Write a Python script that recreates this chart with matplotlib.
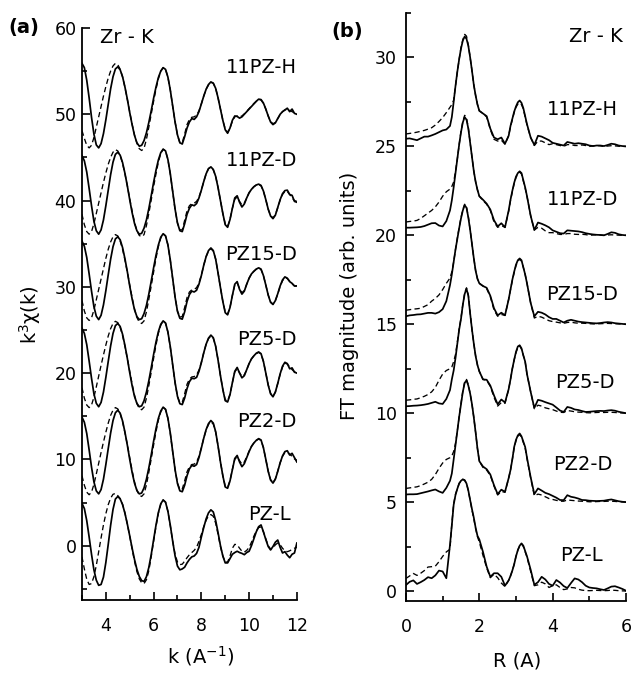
import numpy as np
import matplotlib
matplotlib.use("Agg")
import matplotlib.pyplot as plt
from matplotlib.ticker import MultipleLocator

plt.rcParams['font.family'] = ['DejaVu Sans']
plt.rcParams['mathtext.default'] = 'regular'

# ---- panel (a): k^3 chi(k), experiment (solid) and fit (dashed) ----
k = np.linspace(3.0, 12.0, 91)

samples = ['11PZ-H', '11PZ-D', 'PZ15-D', 'PZ5-D', 'PZ2-D', 'PZ-L']
k_offsets = [50, 40, 30, 20, 10, 0]
r_offsets = [25, 20, 15, 10, 5, 0]

chi_11pzh_exp = [
    5.9, 5.4, 3.95, 1.9, -0.35, -2.3, -3.55, -3.9, -3.4, -2.25,
    -0.65, 1.15, 2.95, 4.35, 5.25, 5.5, 5.15, 4.35, 3.15, 1.75,
    0.2, -1.2, -2.45, -3.3, -3.7, -3.6, -3.05, -2.15, -0.95, 0.4,
    1.85, 3.15, 4.25, 5.0, 5.4, 5.2, 4.3, 2.8, 0.95, -0.9,
    -2.4, -3.3, -3.45, -2.6, -1.6, -0.9, -0.5, -0.6, -0.3, 0.3,
    1.2, 2.1, 2.9, 3.45, 3.75, 3.6, 3.0, 1.9, 0.6, -0.7,
    -1.8, -2.2, -1.6, -0.7, -0.2, -0.25, -0.45, -0.3, 0.0, 0.3,
    0.6, 0.9, 1.2, 1.5, 1.75, 1.7, 1.3, 0.6, -0.2, -0.9,
    -1.2, -1.0, -0.5, 0.0, 0.3, 0.5, 0.7, 0.3, 0.6, 0.1,
    0.0]
chi_11pzh_fit = [
    -1.9, -2.8, -3.6, -3.9, -3.6, -2.7, -1.5, -0.3, 0.9, 2.1,
    3.2, 4.2, 5.0, 5.6, 5.9, 5.75, 5.22, 4.32, 3.12, 1.73,
    0.26, -1.15, -2.4, -3.36, -3.99, -4.2, -3.95, -2.9, -1.5, 0.0,
    1.5, 2.9, 4.1, 5.0, 5.4, 5.2, 4.3, 2.8, 0.9, -0.9,
    -2.4, -3.3, -3.3, -2.3, -1.2, -0.6, -0.35, -0.3, -0.1, 0.4,
    1.2, 2.1, 2.9, 3.4, 3.7, 3.6, 3.0, 1.9, 0.6, -0.7,
    -1.7, -2.1, -1.6, -0.8, -0.3, -0.2, -0.3, -0.2, 0.05, 0.35,
    0.65, 0.95, 1.25, 1.5, 1.7, 1.65, 1.25, 0.6, -0.2, -0.85,
    -1.1, -0.95, -0.5, -0.05, 0.3, 0.5, 0.55, 0.45, 0.3, 0.15,
    0.05]

chi_11pzd_exp = [
    5.2, 4.6, 3.3, 1.4, -0.6, -2.4, -3.5, -3.9, -3.4, -2.25,
    -0.6, 1.2, 3.0, 4.45, 5.35, 5.6, 5.25, 4.4, 3.15, 1.7,
    0.1, -1.4, -2.65, -3.5, -3.9, -3.8, -3.2, -2.25, -0.95, 0.55,
    2.1, 3.5, 4.7, 5.55, 5.95, 5.75, 4.75, 3.1, 1.05, -1.0,
    -2.6, -3.5, -3.6, -2.7, -1.6, -0.9, -0.5, -0.6, -0.35, 0.3,
    1.2, 2.2, 3.1, 3.7, 3.9, 3.6, 2.8, 1.5, 0.0, -1.5,
    -2.8, -3.1, -2.2, -0.9, 0.3, 0.55, -0.2, -0.75, -0.4, 0.3,
    0.9, 1.3, 1.6, 1.8, 1.9, 1.75, 1.1, 0.1, -1.0, -1.8,
    -2.1, -1.7, -0.8, 0.1, 0.8, 1.15, 1.2, 0.7, 0.6, -0.1,
    -0.2]
chi_11pzd_fit = [
    -1.6, -2.8, -3.6, -3.9, -3.6, -2.7, -1.5, -0.3, 0.9, 2.1,
    3.2, 4.2, 5.0, 5.6, 5.9, 5.75, 5.22, 4.3, 3.1, 1.7,
    0.2, -1.2, -2.5, -3.5, -4.05, -4.2, -3.95, -2.9, -1.5, 0.05,
    1.6, 3.1, 4.45, 5.45, 5.95, 5.75, 4.75, 3.05, 1.0, -1.05,
    -2.6, -3.4, -3.4, -2.3, -1.2, -0.6, -0.35, -0.3, -0.1, 0.4,
    1.2, 2.2, 3.1, 3.7, 3.85, 3.55, 2.8, 1.5, 0.0, -1.5,
    -2.7, -3.0, -2.2, -0.9, 0.15, 0.4, -0.1, -0.5, -0.3, 0.3,
    0.9, 1.3, 1.6, 1.8, 1.85, 1.7, 1.1, 0.1, -1.0, -1.75,
    -2.0, -1.65, -0.85, 0.05, 0.7, 1.05, 1.05, 0.7, 0.3, 0.0,
    -0.1]

chi_pz15d_exp = [
    5.3, 4.7, 3.4, 1.5, -0.5, -2.3, -3.4, -3.8, -3.3, -2.1,
    -0.45, 1.4, 3.2, 4.65, 5.55, 5.8, 5.45, 4.55, 3.25, 1.75,
    0.1, -1.4, -2.65, -3.45, -3.8, -3.7, -3.1, -2.15, -0.85, 0.65,
    2.2, 3.65, 4.85, 5.75, 6.15, 5.9, 4.85, 3.1, 0.95, -1.2,
    -2.85, -3.65, -3.75, -2.9, -1.7, -0.9, -0.5, -0.6, -0.4, 0.3,
    1.3, 2.5, 3.5, 4.2, 4.5, 4.2, 3.2, 1.6, -0.1, -1.7,
    -3.0, -3.25, -2.4, -1.0, 0.3, 0.6, -0.3, -0.85, -0.5, 0.3,
    1.0, 1.5, 1.8, 2.05, 2.2, 2.05, 1.3, 0.2, -0.95, -1.8,
    -2.05, -1.6, -0.8, 0.1, 0.8, 1.15, 1.0, 0.6, 0.4, 0.1,
    0.1]
chi_pz15d_fit = [
    -1.6, -2.8, -3.6, -3.9, -3.6, -2.7, -1.5, -0.3, 0.9, 2.1,
    3.3, 4.35, 5.2, 5.8, 6.05, 5.9, 5.3, 4.35, 3.1, 1.7,
    0.2, -1.25, -2.55, -3.55, -4.1, -4.25, -3.95, -2.9, -1.45, 0.1,
    1.7, 3.3, 4.65, 5.65, 6.15, 5.9, 4.85, 3.05, 0.9, -1.2,
    -2.8, -3.5, -3.45, -2.4, -1.25, -0.6, -0.35, -0.3, -0.1, 0.45,
    1.35, 2.5, 3.5, 4.15, 4.4, 4.15, 3.2, 1.6, -0.1, -1.7,
    -2.9, -3.15, -2.4, -1.0, 0.2, 0.45, -0.2, -0.7, -0.4, 0.3,
    1.0, 1.5, 1.8, 2.05, 2.15, 2.0, 1.3, 0.2, -0.95, -1.75,
    -2.0, -1.6, -0.85, 0.05, 0.7, 1.05, 0.95, 0.65, 0.35, 0.1,
    0.05]

chi_pz5d_exp = [
    5.2, 4.6, 3.3, 1.4, -0.6, -2.4, -3.5, -3.9, -3.4, -2.2,
    -0.5, 1.35, 3.15, 4.6, 5.5, 5.75, 5.4, 4.5, 3.2, 1.7,
    0.05, -1.45, -2.7, -3.5, -3.9, -3.8, -3.2, -2.2, -0.9, 0.6,
    2.15, 3.6, 4.8, 5.65, 6.05, 5.8, 4.75, 3.05, 0.95, -1.1,
    -2.7, -3.55, -3.65, -2.9, -1.8, -1.0, -0.6, -0.65, -0.5, 0.2,
    1.2, 2.35, 3.35, 4.05, 4.4, 4.1, 3.1, 1.5, -0.3, -1.9,
    -3.2, -3.35, -2.5, -1.1, 0.2, 0.65, 0.0, -0.55, -0.3, 0.4,
    1.1, 1.65, 2.0, 2.3, 2.45, 2.25, 1.35, 0.0, -1.4, -2.4,
    -2.75, -2.2, -1.2, -0.1, 0.8, 1.25, 1.1, 0.5, 0.6, 0.1,
    0.0]
chi_pz5d_fit = [
    -1.7, -2.9, -3.7, -4.0, -3.7, -2.8, -1.6, -0.35, 0.9, 2.1,
    3.25, 4.3, 5.15, 5.75, 6.0, 5.85, 5.3, 4.35, 3.1, 1.7,
    0.2, -1.25, -2.55, -3.55, -4.1, -4.25, -3.95, -2.9, -1.45, 0.1,
    1.7, 3.25, 4.6, 5.55, 6.05, 5.8, 4.75, 3.0, 0.9, -1.15,
    -2.7, -3.45, -3.4, -2.4, -1.3, -0.7, -0.45, -0.4, -0.2, 0.35,
    1.25, 2.35, 3.35, 4.0, 4.3, 4.05, 3.1, 1.5, -0.3, -1.9,
    -3.1, -3.25, -2.45, -1.1, 0.15, 0.5, 0.05, -0.4, -0.2, 0.4,
    1.1, 1.65, 2.0, 2.25, 2.4, 2.2, 1.35, 0.0, -1.35, -2.35,
    -2.7, -2.2, -1.2, -0.15, 0.7, 1.15, 1.05, 0.7, 0.4, 0.15,
    0.05]

chi_pz2d_exp = [
    4.9, 4.3, 3.0, 1.1, -0.9, -2.6, -3.65, -4.0, -3.5, -2.3,
    -0.6, 1.25, 3.05, 4.5, 5.4, 5.7, 5.35, 4.45, 3.15, 1.65,
    0.0, -1.5, -2.75, -3.6, -4.0, -3.9, -3.3, -2.3, -1.0, 0.5,
    2.1, 3.55, 4.75, 5.6, 6.05, 5.8, 4.75, 3.05, 0.9, -1.2,
    -2.8, -3.65, -3.75, -3.0, -1.9, -1.1, -0.7, -0.8, -0.6, 0.2,
    1.3, 2.45, 3.45, 4.15, 4.5, 4.2, 3.2, 1.55, -0.3, -1.9,
    -3.2, -3.35, -2.5, -1.2, 0.1, 0.45, -0.3, -0.85, -0.5, 0.2,
    0.9, 1.5, 1.9, 2.2, 2.4, 2.25, 1.35, 0.0, -1.4, -2.4,
    -2.75, -2.3, -1.4, -0.4, 0.4, 0.9, 1.0, 0.5, 0.7, 0.2,
    -0.3]
chi_pz2d_fit = [
    -1.9, -3.0, -3.8, -4.1, -3.8, -2.9, -1.7, -0.45, 0.8, 2.0,
    3.15, 4.2, 5.1, 5.7, 6.0, 5.85, 5.3, 4.35, 3.1, 1.7,
    0.2, -1.3, -2.6, -3.6, -4.15, -4.3, -4.0, -2.95, -1.5, 0.05,
    1.65, 3.2, 4.55, 5.5, 6.0, 5.8, 4.75, 3.0, 0.85, -1.2,
    -2.75, -3.5, -3.45, -2.5, -1.45, -0.85, -0.6, -0.55, -0.3, 0.35,
    1.35, 2.45, 3.4, 4.05, 4.35, 4.1, 3.15, 1.55, -0.3, -1.9,
    -3.1, -3.25, -2.45, -1.15, 0.0, 0.3, -0.15, -0.55, -0.3, 0.3,
    0.95, 1.5, 1.9, 2.2, 2.35, 2.2, 1.35, 0.0, -1.35, -2.35,
    -2.7, -2.25, -1.35, -0.4, 0.35, 0.8, 0.85, 0.6, 0.35, 0.05,
    -0.1]

chi_pzl_exp = [
    4.9, 4.3, 2.9, 1.0, -1.0, -2.8, -4.0, -4.6, -4.5, -3.65,
    -1.95, 0.15, 2.35, 4.2, 5.4, 5.7, 5.42, 4.75, 3.75, 2.5,
    1.13, -0.28, -1.6, -2.74, -3.57, -4.05, -4.15, -3.6, -2.53, -1.04,
    0.67, 2.37, 3.84, 4.85, 5.29, 5.03, 3.98, 2.36, 0.51, -1.19,
    -2.37, -2.8, -2.7, -2.5, -2.0, -1.6, -1.3, -1.2, -0.9, -0.2,
    1.0, 2.1, 3.1, 3.8, 4.15, 3.9, 2.9, 1.5, 0.0, -1.2,
    -2.0, -2.0, -1.5, -1.0, -0.8, -0.65, -0.8, -0.9, -1.05, -0.8,
    -0.65, 0.0, 0.8, 1.6, 2.2, 2.4, 1.6, 0.7, -0.1, -0.5,
    -0.1, 0.4, 0.65, -0.2, -0.85, -0.7, -1.1, -1.4, -1.0, -0.85,
    0.3]
chi_pzl_fit = [
    -1.3, -2.7, -3.9, -4.5, -4.4, -3.6, -2.3, -0.7, 0.9, 2.4,
    3.7, 4.75, 5.5, 5.95, 6.05, 5.8, 5.45, 4.8, 3.8, 2.5,
    1.1, -0.4, -1.8, -3.0, -3.85, -4.3, -4.4, -3.95, -2.9, -1.3,
    0.5, 2.2, 3.75, 4.8, 5.3, 5.05, 3.95, 2.3, 0.5, -1.0,
    -1.9, -2.2, -2.15, -1.8, -1.4, -1.05, -0.8, -0.55, -0.2, 0.5,
    1.3, 2.2, 2.95, 3.45, 3.6, 3.4, 2.6, 1.3, -0.1, -1.2,
    -1.9, -1.9, -1.2, -0.3, 0.15, 0.1, -0.3, -0.65, -0.75, -0.55,
    -0.2, 0.4, 1.1, 1.7, 2.1, 2.15, 1.6, 0.8, 0.0, -0.4,
    -0.3, 0.1, 0.3, 0.1, -0.3, -0.6, -0.7, -0.6, -0.45, -0.3,
    -0.2]

# ---- panel (b): FT magnitude vs R ----
r = [0.0, 0.1, 0.2, 0.3, 0.4, 0.5, 0.6, 0.7, 0.8, 0.9, 1.0, 1.1, 1.2,
     1.25, 1.3, 1.35, 1.4, 1.45, 1.5, 1.55, 1.6, 1.65, 1.7, 1.75, 1.8,
     1.85, 1.9, 1.95, 2.0,
     2.1, 2.2, 2.3, 2.4, 2.5, 2.6, 2.7, 2.8,
     2.85, 2.9, 2.95, 3.0, 3.05, 3.1, 3.15, 3.2, 3.25, 3.3,
     3.4, 3.5, 3.6, 3.7, 3.8, 3.9, 4.0, 4.1, 4.2, 4.3, 4.4, 4.5, 4.6,
     4.7, 4.8, 4.9, 5.0, 5.1, 5.2, 5.3, 5.4, 5.5, 5.6, 5.7, 5.8, 5.9, 6.0]

ft_11pzh_exp = [
    0.43, 0.45, 0.4, 0.35, 0.45, 0.55, 0.55, 0.62, 0.7, 0.8, 0.9, 0.95, 1.15,
    1.65, 2.5, 3.4, 4.2, 4.9, 5.5, 5.95, 6.18, 6.05, 5.65, 5.0, 4.25, 3.45, 2.85, 2.35, 2.0,
    1.85, 1.7, 1.0, 0.5, 0.4, 0.5, 0.15, 0.6,
    1.15, 1.55, 1.95, 2.25, 2.48, 2.58, 2.45, 2.15, 1.7, 1.25,
    0.5, 0.08, 0.6, 0.55, 0.45, 0.35, 0.2, 0.15, 0.1, 0.05, 0.25, 0.2, 0.15,
    0.18, 0.15, 0.12, 0.05, 0.02, 0.05, 0.05, 0.02, 0.08, 0.15, 0.12, 0.05, 0.02, 0.0]
ft_11pzh_fit = [
    0.7, 0.73, 0.76, 0.8, 0.85, 0.9, 0.97, 1.05, 1.2, 1.4, 1.62, 1.9, 2.2,
    2.35, 2.6, 3.4, 4.2, 4.9, 5.55, 6.0, 6.3, 6.2, 5.7, 5.0, 4.25, 3.45, 2.85, 2.35, 2.0,
    1.85, 1.65, 0.95, 0.4, 0.3, 0.35, 0.12, 0.6,
    1.1, 1.5, 1.9, 2.2, 2.38, 2.45, 2.35, 2.1, 1.65, 1.2,
    0.5, 0.05, 0.3, 0.3, 0.2, 0.1, 0.15, 0.1, 0.05, 0.0, 0.1, 0.1, 0.05,
    0.05, 0.08, 0.05, 0.0, 0.03, 0.05, 0.03, 0.0, 0.02, 0.04, 0.03, 0.01, 0.0, 0.0]

ft_11pzd_exp = [
    0.43, 0.43, 0.44, 0.45, 0.47, 0.52, 0.6, 0.68, 0.69, 0.55, 0.5, 0.8, 1.4,
    1.97, 2.7, 3.5, 4.3, 5.1, 5.8, 6.35, 6.65, 6.5, 6.0, 5.2, 4.4, 3.6, 3.0, 2.55, 2.2,
    2.0, 1.78, 1.45, 0.85, 0.5, 0.68, 0.45, 1.4,
    2.0, 2.5, 2.95, 3.3, 3.5, 3.6, 3.5, 3.1, 2.7, 2.2,
    1.1, 0.3, 0.72, 0.65, 0.56, 0.45, 0.28, 0.2, 0.12, 0.1, 0.28, 0.26, 0.24,
    0.22, 0.18, 0.12, 0.08, 0.05, 0.03, 0.02, 0.0, 0.08, 0.17, 0.14, 0.06, 0.02, 0.0]
ft_11pzd_fit = [
    0.75, 0.78, 0.8, 0.84, 0.95, 1.1, 1.25, 1.4, 1.6, 1.87, 2.2, 2.45, 2.6,
    2.75, 3.0, 3.6, 4.3, 5.1, 5.85, 6.4, 6.75, 6.6, 6.05, 5.2, 4.4, 3.6, 3.0, 2.55, 2.2,
    1.95, 1.75, 1.4, 0.75, 0.45, 0.55, 0.45, 1.35,
    1.95, 2.45, 2.9, 3.25, 3.45, 3.55, 3.45, 3.05, 2.65, 2.2,
    1.1, 0.3, 0.45, 0.4, 0.25, 0.15, 0.15, 0.1, 0.05, 0.05, 0.1, 0.1, 0.06,
    0.05, 0.06, 0.04, 0.0, 0.02, 0.03, 0.02, 0.0, 0.02, 0.03, 0.02, 0.01, 0.0, 0.0]

ft_pz15d_exp = [
    0.45, 0.5, 0.52, 0.55, 0.56, 0.6, 0.64, 0.64, 0.6, 0.68, 0.85, 1.3, 2.2,
    2.8, 3.5, 4.2, 4.8, 5.4, 5.95, 6.4, 6.7, 6.55, 6.0, 5.3, 4.5, 3.7, 3.0, 2.55, 2.3,
    2.15, 2.05, 1.6, 0.9, 0.5, 0.65, 0.5, 1.4,
    1.95, 2.5, 2.95, 3.35, 3.6, 3.7, 3.6, 3.2, 2.8, 2.3,
    1.2, 0.45, 0.7, 0.65, 0.55, 0.4, 0.3, 0.3, 0.2, 0.1, 0.2, 0.25, 0.2,
    0.15, 0.12, 0.1, 0.08, 0.06, 0.05, 0.07, 0.1, 0.12, 0.1, 0.06, 0.04, 0.02, 0.0]
ft_pz15d_fit = [
    0.79, 0.82, 0.85, 0.87, 0.9, 1.0, 1.1, 1.3, 1.45, 1.65, 1.95, 2.3, 2.6,
    2.95, 3.5, 4.2, 4.85, 5.45, 6.0, 6.45, 6.75, 6.6, 6.05, 5.3, 4.5, 3.7, 3.0, 2.55, 2.3,
    2.15, 2.0, 1.55, 0.8, 0.45, 0.55, 0.5, 1.4,
    1.95, 2.45, 2.9, 3.3, 3.55, 3.65, 3.55, 3.2, 2.8, 2.3,
    1.2, 0.35, 0.45, 0.4, 0.3, 0.2, 0.15, 0.12, 0.08, 0.05, 0.1, 0.12, 0.08,
    0.06, 0.06, 0.05, 0.03, 0.02, 0.02, 0.03, 0.04, 0.05, 0.04, 0.03, 0.02, 0.01, 0.0]

ft_pz5d_exp = [
    0.39, 0.4, 0.42, 0.43, 0.45, 0.48, 0.52, 0.58, 0.64, 0.55, 0.52, 0.8, 1.3,
    1.9, 2.4, 3.1, 3.9, 4.7, 5.3, 6.1, 6.7, 7.0, 6.6, 5.6, 4.7, 3.9, 3.2, 2.7, 2.35,
    1.9, 1.88, 1.55, 1.0, 0.5, 0.77, 0.6, 1.35,
    1.9, 2.5, 3.0, 3.45, 3.75, 3.82, 3.65, 3.25, 2.9, 2.2,
    1.2, 0.3, 0.75, 0.7, 0.62, 0.55, 0.48, 0.32, 0.15, 0.07, 0.35, 0.3, 0.21,
    0.18, 0.12, 0.07, 0.08, 0.1, 0.12, 0.13, 0.12, 0.15, 0.17, 0.14, 0.08, 0.04, 0.0]
ft_pz5d_fit = [
    0.73, 0.75, 0.78, 0.8, 0.87, 0.95, 1.05, 1.2, 1.45, 1.85, 2.2, 2.4, 2.5,
    2.6, 2.9, 3.3, 4.0, 4.75, 5.35, 6.1, 6.75, 7.05, 6.65, 5.65, 4.7, 3.9, 3.2, 2.7, 2.35,
    1.9, 1.85, 1.5, 0.9, 0.4, 0.6, 0.55, 1.35,
    1.9, 2.5, 3.0, 3.4, 3.7, 3.78, 3.6, 3.25, 2.9, 2.2,
    1.2, 0.25, 0.45, 0.4, 0.3, 0.25, 0.2, 0.12, 0.05, 0.04, 0.15, 0.12, 0.08,
    0.06, 0.05, 0.03, 0.02, 0.03, 0.04, 0.05, 0.04, 0.05, 0.05, 0.04, 0.02, 0.01, 0.0]

ft_pz2d_exp = [
    0.43, 0.44, 0.44, 0.45, 0.5, 0.55, 0.6, 0.66, 0.71, 0.6, 0.52, 0.8, 1.2,
    1.61, 2.4, 3.2, 4.0, 4.8, 5.5, 6.2, 6.7, 6.85, 6.55, 6.1, 5.5, 4.75, 3.9, 3.0, 2.3,
    2.0, 1.85, 1.55, 0.95, 0.45, 0.7, 0.58, 1.35,
    1.8, 2.4, 3.1, 3.5, 3.75, 3.86, 3.7, 3.4, 3.1, 2.5,
    1.4, 0.45, 0.77, 0.65, 0.52, 0.45, 0.35, 0.25, 0.12, 0.11, 0.39, 0.3, 0.26,
    0.2, 0.12, 0.11, 0.08, 0.07, 0.06, 0.07, 0.08, 0.12, 0.15, 0.1, 0.05, 0.02, 0.0]
ft_pz2d_fit = [
    0.77, 0.8, 0.83, 0.86, 0.93, 1.02, 1.12, 1.28, 1.55, 1.9, 2.2, 2.4, 2.5,
    2.6, 2.85, 3.3, 4.0, 4.8, 5.55, 6.25, 6.75, 6.9, 6.6, 6.1, 5.5, 4.75, 3.9, 3.0, 2.3,
    1.95, 1.8, 1.5, 0.9, 0.4, 0.6, 0.55, 1.35,
    1.8, 2.4, 3.05, 3.45, 3.7, 3.8, 3.65, 3.35, 3.05, 2.45,
    1.35, 0.35, 0.45, 0.4, 0.3, 0.2, 0.15, 0.1, 0.05, 0.05, 0.12, 0.1, 0.08,
    0.06, 0.05, 0.04, 0.02, 0.02, 0.03, 0.04, 0.04, 0.05, 0.05, 0.04, 0.02, 0.01, 0.0]

ft_pzl_exp = [
    0.34, 0.52, 0.6, 0.4, 0.5, 0.62, 0.78, 0.72, 0.88, 1.15, 1.1, 0.72, 2.6,
    3.7, 4.85, 5.4, 5.75, 6.05, 6.2, 6.28, 6.22, 6.05, 5.65, 5.11, 4.6, 4.12, 3.55, 3.1, 2.9,
    2.2, 1.37, 0.8, 1.0, 1.0, 0.8, 0.3, 0.6,
    0.85, 1.15, 1.5, 1.95, 2.3, 2.55, 2.68, 2.55, 2.25, 1.95,
    1.2, 0.35, 0.5, 0.8, 0.65, 0.4, 0.3, 0.62, 0.48, 0.28, 0.17, 0.45, 0.71,
    0.65, 0.5, 0.3, 0.2, 0.17, 0.15, 0.1, 0.06, 0.15, 0.25, 0.27, 0.2, 0.12, 0.02]
ft_pzl_fit = [
    0.71, 0.85, 0.99, 0.88, 1.0, 1.15, 1.35, 1.37, 1.4, 1.65, 1.95, 2.2, 2.35,
    3.8, 4.9, 5.45, 5.75, 6.05, 6.2, 6.28, 6.25, 6.05, 5.65, 5.1, 4.55, 4.05, 3.5, 3.05, 2.75,
    2.0, 1.3, 0.75, 0.95, 0.75, 0.45, 0.25, 0.6,
    0.85, 1.15, 1.5, 1.95, 2.3, 2.55, 2.65, 2.5, 2.2, 1.9,
    1.1, 0.3, 0.35, 0.5, 0.4, 0.2, 0.3, 0.35, 0.2, 0.08, 0.12, 0.2, 0.18,
    0.1, 0.05, 0.03, 0.02, 0.03, 0.04, 0.03, 0.02, 0.03, 0.05, 0.04, 0.02, 0.01, 0.0]

chi_exp = [chi_11pzh_exp, chi_11pzd_exp, chi_pz15d_exp, chi_pz5d_exp, chi_pz2d_exp, chi_pzl_exp]
chi_fit = [chi_11pzh_fit, chi_11pzd_fit, chi_pz15d_fit, chi_pz5d_fit, chi_pz2d_fit, chi_pzl_fit]
ft_exp = [ft_11pzh_exp, ft_11pzd_exp, ft_pz15d_exp, ft_pz5d_exp, ft_pz2d_exp, ft_pzl_exp]
ft_fit = [ft_11pzh_fit, ft_11pzd_fit, ft_pz15d_fit, ft_pz5d_fit, ft_pz2d_fit, ft_pzl_fit]

# label positions (data coords)
k_label_pos = [(12.0, 55.4), (12.0, 44.6), (12.0, 33.7), (12.0, 23.9), (12.0, 14.4), (11.75, 3.6)]
r_label_pos = [(4.81, 27.1), (4.81, 22.0), (4.79, 16.7), (4.88, 11.7), (4.81, 7.1), (4.79, 2.0)]

fig = plt.figure(figsize=(6.32, 6.74), dpi=100)
ax1 = fig.add_axes([0.1297, 0.1098, 0.340, 0.8487])
ax2 = fig.add_axes([0.6424, 0.1083, 0.3481, 0.8724])

solid_kw = dict(color='black', lw=1.25)
dash_kw = dict(color='black', lw=0.95, dashes=(4, 2.5))

for i in range(len(samples)):
    off = k_offsets[i]
    ax1.plot(k, np.array(chi_exp[i]) + off, **solid_kw)
    ax1.plot(k, np.array(chi_fit[i]) + off, **dash_kw)
    x, y = k_label_pos[i]
    ax1.text(x, y, samples[i], ha='right', va='center', fontsize=14)

    off = r_offsets[i]
    ax2.plot(r, np.array(ft_exp[i]) + off, **solid_kw)
    ax2.plot(r, np.array(ft_fit[i]) + off, **dash_kw)
    x, y = r_label_pos[i]
    ax2.text(x, y, samples[i], ha='center', va='center', fontsize=14)

ax1.set_xlim(3, 12)
ax1.set_ylim(-6.3, 60)
ax1.xaxis.set_major_locator(MultipleLocator(2))
ax1.xaxis.set_minor_locator(MultipleLocator(1))
ax1.yaxis.set_major_locator(MultipleLocator(10))
ax1.yaxis.set_minor_locator(MultipleLocator(5))
ax1.text(3.75, 58.9, 'Zr - K', ha='left', va='center', fontsize=14)

ax2.set_xlim(0, 6)
ax2.set_ylim(-0.56, 32.5)
ax2.xaxis.set_major_locator(MultipleLocator(2))
ax2.xaxis.set_minor_locator(MultipleLocator(1))
ax2.yaxis.set_major_locator(MultipleLocator(5))
ax2.yaxis.set_minor_locator(MultipleLocator(2.5))
ax2.text(5.92, 31.2, 'Zr - K', ha='right', va='center', fontsize=14)

for ax, ypad in ((ax1, 4), (ax2, 6.5)):
    for side in ('top', 'right'):
        ax.spines[side].set_visible(False)
    for side in ('left', 'bottom'):
        ax.spines[side].set_linewidth(1.3)
    ax.tick_params(which='both', direction='in', width=1.2, labelsize=12.5)
    ax.tick_params(which='major', length=6)
    ax.tick_params(which='minor', length=3.5)
    ax.tick_params(axis='y', pad=ypad)
    ax.tick_params(axis='x', pad=12)

fig.text(24 / 632, 1 - 28 / 674, '(a)', fontsize=14, fontweight='bold', ha='center', va='center')
fig.text(347 / 632, 1 - 32 / 674, '(b)', fontsize=14, fontweight='bold', ha='center', va='center')

fig.text(30 / 632, 1 - 315 / 674, 'k$^{3}$χ(k)', rotation=90, fontsize=14, ha='center', va='center')
fig.text(350 / 632, 1 - 296 / 674, 'FT magnitude (arb. units)', rotation=90, fontsize=14,
         ha='center', va='center')
fig.text(201 / 632, 1 - 656 / 674, 'k (A$^{-1}$)', fontsize=14, ha='center', va='center')
fig.text(517 / 632, 1 - 661 / 674, 'R (A)', fontsize=14, ha='center', va='center')

fig.savefig('out.png', dpi=100)
